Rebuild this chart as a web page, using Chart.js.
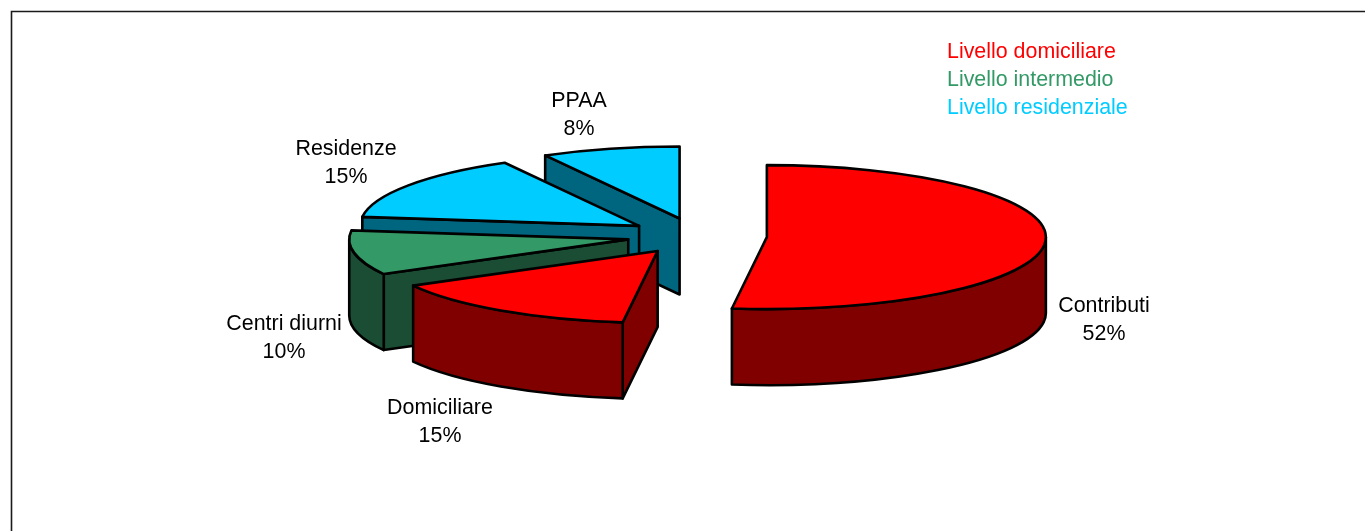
<!DOCTYPE html>
<html>
<head>
<meta charset="utf-8">
<title>Ripartizione</title>
<script src="https://cdn.jsdelivr.net/npm/chart.js@4/dist/chart.umd.min.js"></script>
<style>
  html, body { margin: 0; padding: 0; background: #fff; overflow: hidden; }
  canvas { display: block; }
</style>
</head>
<body>
<canvas id="chart_ripartizione" width="1365" height="531"></canvas>
<script>
var categories = ['Contributi', 'Domiciliare', 'Centri diurni', 'Residenze', 'PPAA'];
var shares = [52, 15, 10, 15, 8];
var legend_labels = ['Livello domiciliare', 'Livello intermedio', 'Livello residenziale'];

var top_colors = ['#FF0000', '#FF0000', '#339966', '#00CCFF', '#00CCFF'];
var wall_colors = ['#800000', '#800000', '#1A4D33', '#006680', '#006680'];
var legend_colors = ['#FF0000', '#339966', '#00CCFF'];

// centre of each two line label, in pixels
var label_anchors = [[1104, 319], [440, 421], [284, 337], [346, 162], [579, 114]];

var TILT = 0.258;      // ellipse height / width
var DEPTH = 76;        // height of the walls
var EXPLODE = 70;      // how far slices are pulled out
var FONT = '21.4px "Liberation Sans", Arial, sans-serif';

// slices are painted back to front
var draw_order = [4, 3, 2, 1, 0];

function slice_wall(ctx, cx, cy, r, a, b, color) {
  ctx.fillStyle = color;

  // flat cut faces turned towards the viewer
  [[a, Math.cos(a) < -0.001], [b, Math.cos(b) > 0.001]].forEach(function (cut) {
    if (!cut[1]) return;
    var ex = cx + Math.cos(cut[0]) * r;
    var ey = cy + Math.sin(cut[0]) * r * TILT;
    ctx.beginPath();
    ctx.moveTo(cx, cy);
    ctx.lineTo(ex, ey);
    ctx.lineTo(ex, ey + DEPTH);
    ctx.lineTo(cx, cy + DEPTH);
    ctx.closePath();
    ctx.fill();
    ctx.stroke();
  });

  // rounded outer wall, front half only
  var from = Math.max(a, 0);
  var to = Math.min(b, Math.PI);
  if (to > from) {
    ctx.beginPath();
    ctx.ellipse(cx, cy, r, r * TILT, 0, from, to);
    ctx.ellipse(cx, cy + DEPTH, r, r * TILT, 0, to, from, true);
    ctx.closePath();
    ctx.fill();
    ctx.stroke();
  }
}

function slice_top(ctx, cx, cy, r, a, b, color) {
  ctx.fillStyle = color;
  ctx.beginPath();
  ctx.moveTo(cx, cy);
  ctx.ellipse(cx, cy, r, r * TILT, 0, a, b);
  ctx.closePath();
  ctx.fill();
  ctx.stroke();
}

var tilted_pie = {
  id: 'tilted_pie',
  beforeDraw: function (chart) {
    var ctx = chart.ctx;
    ctx.save();
    ctx.strokeStyle = '#1a1a1a';
    ctx.lineWidth = 1.6;
    ctx.beginPath();
    ctx.moveTo(11.5, chart.height);
    ctx.lineTo(11.5, 11.5);
    ctx.lineTo(chart.width, 11.5);
    ctx.stroke();
    ctx.restore();
  },
  beforeDatasetDraw: function (chart) {
    var ctx = chart.ctx;
    var arcs = chart.getDatasetMeta(0).data;
    ctx.save();
    ctx.strokeStyle = '#000';
    ctx.lineWidth = 2.6;
    ctx.lineJoin = 'round';
    draw_order.forEach(function (i) {
      var arc = arcs[i];
      var mid = (arc.startAngle + arc.endAngle) / 2;
      var cx = arc.x + Math.cos(mid) * EXPLODE;
      var cy = arc.y + Math.sin(mid) * EXPLODE * TILT;
      slice_wall(ctx, cx, cy, arc.outerRadius, arc.startAngle, arc.endAngle, wall_colors[i]);
      slice_top(ctx, cx, cy, arc.outerRadius, arc.startAngle, arc.endAngle, top_colors[i]);
    });
    ctx.restore();
    return false;
  },
  afterDraw: function (chart) {
    var ctx = chart.ctx;
    ctx.save();
    ctx.font = FONT;
    ctx.textBaseline = 'alphabetic';
    ctx.textAlign = 'center';
    ctx.fillStyle = '#000';
    categories.forEach(function (name, i) {
      ctx.fillText(name, label_anchors[i][0], label_anchors[i][1] - 7);
      ctx.fillText(shares[i] + '%', label_anchors[i][0], label_anchors[i][1] + 21);
    });
    ctx.textAlign = 'left';
    legend_labels.forEach(function (name, i) {
      ctx.fillStyle = legend_colors[i];
      ctx.fillText(name, 947, 58 + i * 28);
    });
    ctx.restore();
  }
};

var mychart = new Chart(document.getElementById('chart_ripartizione').getContext('2d'), {
  type: 'pie',
  data: {
    labels: categories,
    datasets: [{
      data: shares,
      backgroundColor: top_colors,
      radius: 279
    }]
  },
  options: {
    responsive: false,
    animation: false,
    layout: { padding: { left: 29, bottom: 59 } },
    plugins: {
      legend: { display: false },
      tooltip: { enabled: false }
    }
  },
  plugins: [tilted_pie]
});
</script>
</body>
</html>
